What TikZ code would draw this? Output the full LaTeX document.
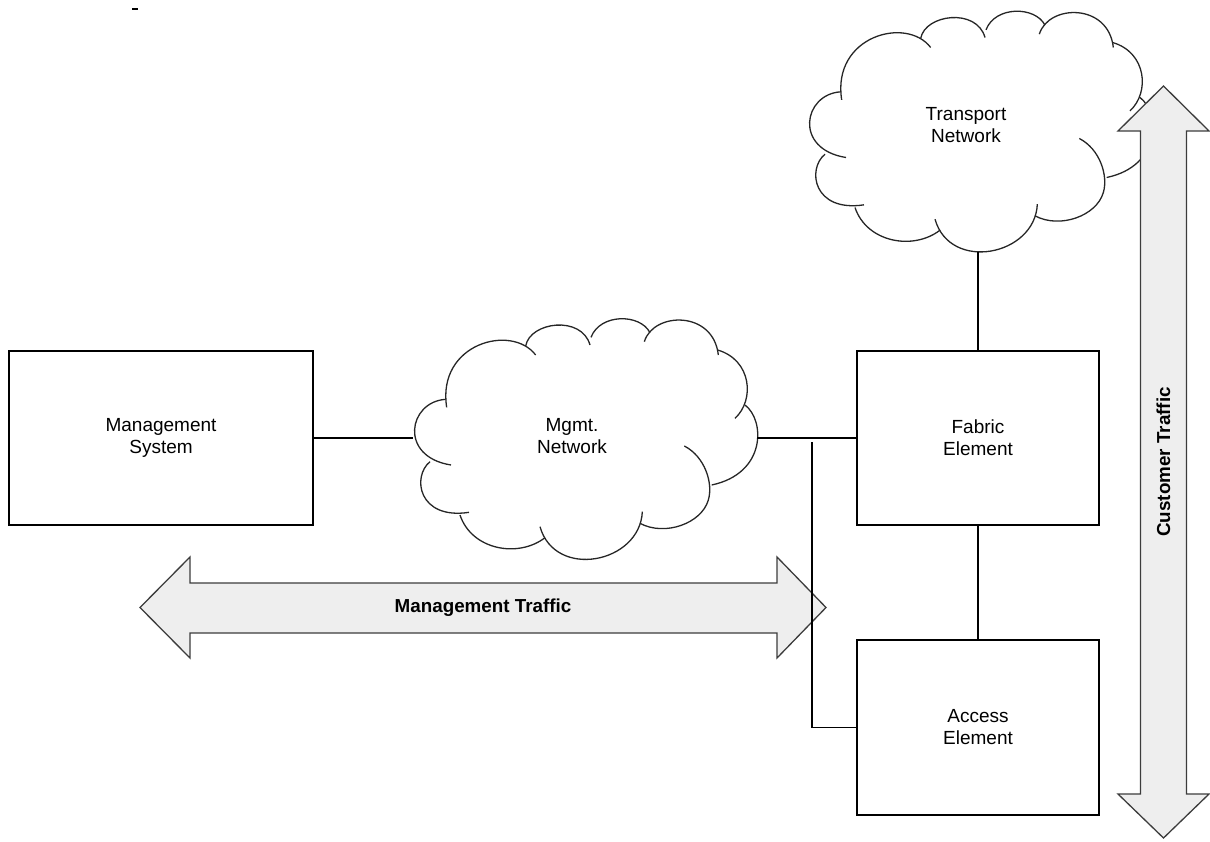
\documentclass[tikz,border=0pt]{standalone}
\usepackage{fontspec}
\setmainfont{Liberation Sans}
\newcommand{\cloudoutline}{%
  \draw[cloudline] (125,292) .. controls (95,100) and (320,40) .. (392,135);
  \draw[cloudline] (362,108) .. controls (375,35) and (530,15) .. (555,105);
  \draw[cloudline] (558,82) .. controls (585,10) and (705,10) .. (735,68);
  \draw[cloudline] (718,95) .. controls (745,5) and (925,0) .. (940,135);
  \draw[cloudline] (938,120) .. controls (1040,150) and (1050,270) .. (990,325);
  \draw[cloudline] (1020,285) .. controls (1080,330) and (1085,490) .. (920,525);
  \draw[cloudline] (838,408) .. controls (900,440) and (925,520) .. (910,570)
                   .. controls (890,640) and (780,680) .. (705,640);
  \draw[cloudline] (712,605) .. controls (705,760) and (450,810) .. (405,650);
  \draw[cloudline] (420,683) .. controls (340,745) and (200,720) .. (165,615);
  \draw[cloudline] (75,455) .. controls (20,500) and (40,630) .. (192,607);
  \draw[cloudline] (122,268) .. controls (10,275) and (-20,440) .. (138,465);
}
\begin{document}
\begin{tikzpicture}[x=0.5pt,y=-0.5pt,
  line width=0.65pt,
  cloudline/.style={draw=black!85, line width=0.65pt},
  conn/.style={draw=black, line width=0.65pt},
  lbl/.style={align=center, inner sep=0pt, font=\fontsize{9.5}{11}\selectfont},
  boldlbl/.style={align=center, inner sep=0pt, font=\bfseries\fontsize{9.4}{11}\selectfont},
  box/.style={draw=black, fill=white, line width=0.65pt, inner sep=0pt, align=center,
              font=\fontsize{9.5}{11}\selectfont},
  fatarrow/.style={draw={rgb,255:red,60;green,60;blue,60}, fill={rgb,255:red,238;green,238;blue,238},
                   line width=0.65pt, line join=miter}
]
\useasboundingbox (0,0) rectangle (1210,841);

% small mark at top left
\draw[line width=0.9pt] (132,9) -- (138,9);

% clouds
\begin{scope}[shift={(405,310)}, scale=1/3]
  \cloudoutline
\end{scope}
\begin{scope}[shift={(800,2.5)}, scale=1/3]
  \cloudoutline
\end{scope}
\node[lbl] (mgmt) at (572,436) {Mgmt.\\Network};
\node[lbl] (trans) at (966,125) {Transport\\Network};
\coordinate (mgL) at (413,438);
\coordinate (mgR) at (757,438);
\coordinate (tnB) at (978,252);

% fat arrows
\draw[fatarrow] (140,607.5) -- (190,557) -- (190,583) -- (777,583) -- (777,557) -- (826,607.5)
  -- (777,658) -- (777,633) -- (190,633) -- (190,658) -- cycle;
\node[boldlbl] (mt) at (483,608) {Management Traffic};

\draw[fatarrow] (1163.5,86) -- (1209,131) -- (1186.5,131) -- (1186.5,794) -- (1209,794)
  -- (1163.5,838) -- (1118,794) -- (1140.5,794) -- (1140.5,131) -- (1118,131) -- cycle;
\node[boldlbl, rotate=90] (ct) at (1163.5,462) {Customer Traffic};

% boxes
\node[box, minimum width=152pt, minimum height=87pt] (ms) at (161,438) {Management\\System};
\node[box, minimum width=121pt, minimum height=87pt] (fe) at (978,438) {Fabric\\Element};
\node[box, minimum width=121pt, minimum height=87.5pt] (ae) at (978,727.5) {Access\\Element};

% connectors
\coordinate (j) at (812,442);
\draw[conn] (ms.east) -- (mgL);
\draw[conn] (mgR) -- (fe.west);
\draw[conn] (j) |- (ae.west);
\draw[conn] (fe.south) -- (ae.north);
\draw[conn] (tnB) -- (fe.north);
\end{tikzpicture}
\end{document}
